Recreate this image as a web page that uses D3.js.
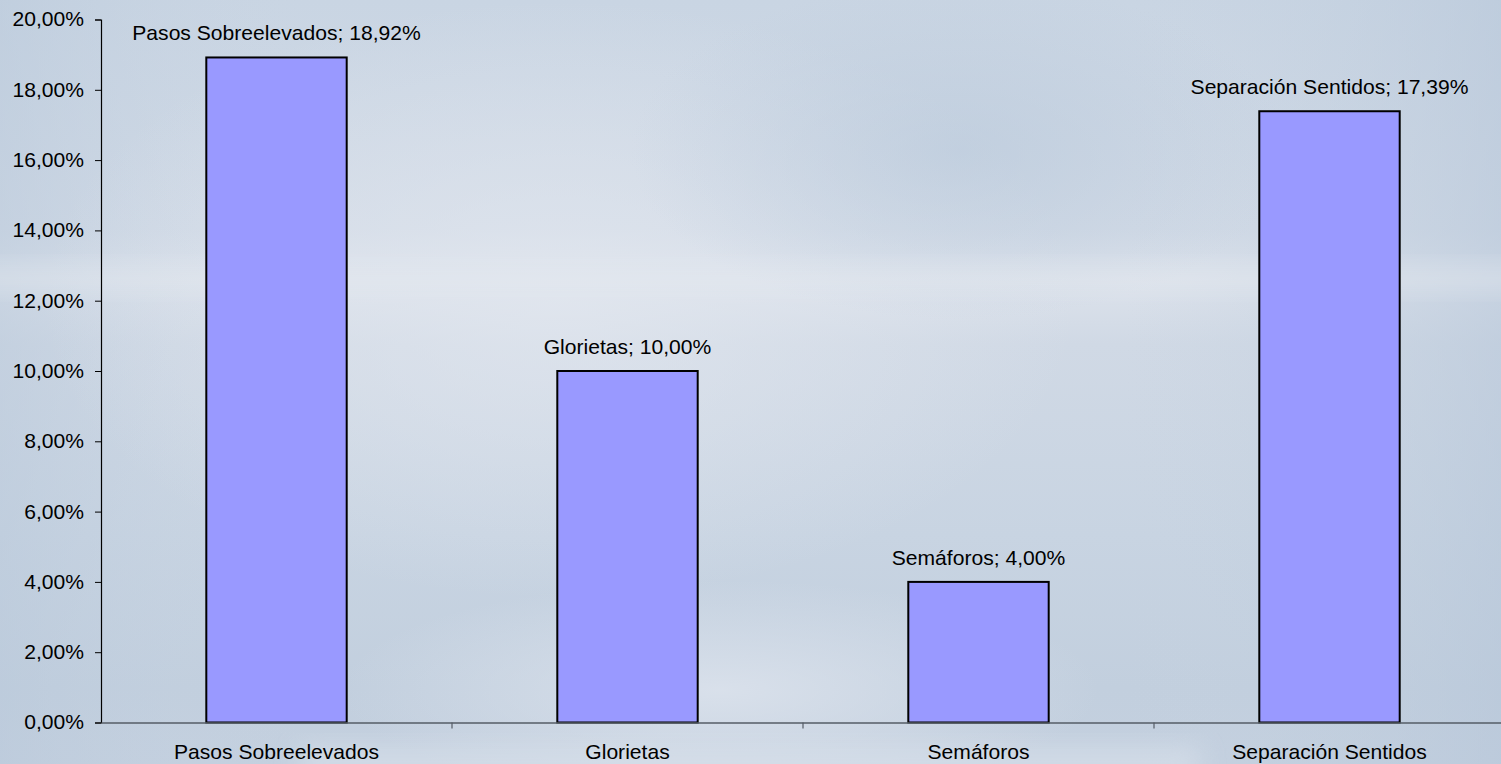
<!DOCTYPE html>
<html>
<head>
<meta charset="utf-8">
<script src="https://cdn.jsdelivr.net/npm/d3@7"></script>
<style>
  html, body { margin: 0; padding: 0; background: #c4d1e0; }
  svg { display: block; }
  text { font-family: "Liberation Sans", Arial, sans-serif; fill: #000; }
</style>
</head>
<body>
<svg id="chart" width="1501" height="764"></svg>
<script>
// Data
const categories = ["Pasos Sobreelevados", "Glorietas", "Semáforos", "Separación Sentidos"];
const values = [18.92, 10.00, 4.00, 17.39];
const yTicks = [0, 2, 4, 6, 8, 10, 12, 14, 16, 18, 20];

const W = 1501, H = 764;
const margin = { left: 101, right: -4, top: 19.5, bottom: 41.5 };
const fontSize = 20, stretch = 1.055;

const svg = d3.select("#chart");
const defs = svg.append("defs");

// Backdrop: soft blue-grey gradient with lighter hazy bands
const base = defs.append("linearGradient").attr("id", "bgBase").attr("x1", 0).attr("y1", 0).attr("x2", 0).attr("y2", 1);
[[0, "#c9d5e3"], [0.3, "#d1dae6"], [0.37, "#dce2eb"], [0.45, "#d0d9e5"], [0.7, "#c8d4e2"], [0.9, "#c2cfde"], [1, "#c4d0df"]]
  .forEach(([o, c]) => base.append("stop").attr("offset", o).attr("stop-color", c));

const side = defs.append("linearGradient").attr("id", "bgSide").attr("x1", 0).attr("y1", 0).attr("x2", 1).attr("y2", 0);
[[0, "#b8c8da", 0.5], [0.2, "#c8d4e2", 0], [0.75, "#c8d4e2", 0], [1, "#b6c6d9", 0.55]]
  .forEach(([o, c, a]) => side.append("stop").attr("offset", o).attr("stop-color", c).attr("stop-opacity", a));

const glow = defs.append("radialGradient").attr("id", "bgGlow").attr("cx", 0.5).attr("cy", 0.5).attr("r", 0.5);
[[0, "#e2e7ef", 0.75], [1, "#e2e7ef", 0]]
  .forEach(([o, c, a]) => glow.append("stop").attr("offset", o).attr("stop-color", c).attr("stop-opacity", a));

const glowLow = defs.append("radialGradient").attr("id", "bgGlowLow").attr("cx", 0.5).attr("cy", 0.5).attr("r", 0.5);
[[0, "#dbe2ec", 0.9], [1, "#dbe2ec", 0]]
  .forEach(([o, c, a]) => glowLow.append("stop").attr("offset", o).attr("stop-color", c).attr("stop-opacity", a));

const dark = defs.append("radialGradient").attr("id", "bgDark").attr("cx", 0.5).attr("cy", 0.5).attr("r", 0.5);
[[0, "#b9c9db", 0.6], [1, "#b9c9db", 0]]
  .forEach(([o, c, a]) => dark.append("stop").attr("offset", o).attr("stop-color", c).attr("stop-opacity", a));

const blur = defs.append("filter").attr("id", "haze").attr("x", -0.2).attr("y", -0.5).attr("width", 1.4).attr("height", 2);
blur.append("feGaussianBlur").attr("stdDeviation", 12);

const bg = svg.append("g");
bg.append("rect").attr("width", W).attr("height", H).attr("fill", "url(#bgBase)");
bg.append("rect").attr("width", W).attr("height", H).attr("fill", "url(#bgSide)");
bg.append("ellipse").attr("cx", 560).attr("cy", 300).attr("rx", 520).attr("ry", 300).attr("fill", "url(#bgGlow)");
bg.append("ellipse").attr("cx", 960).attr("cy", 150).attr("rx", 330).attr("ry", 170).attr("fill", "url(#bgDark)");
bg.append("ellipse").attr("cx", 720).attr("cy", 690).attr("rx", 380).attr("ry", 110).attr("fill", "url(#bgGlowLow)");
// light streak across the middle
bg.append("rect").attr("x", -50).attr("y", 266).attr("width", W + 100).attr("height", 24)
  .attr("fill", "#e3e8ef").attr("opacity", 0.5).attr("filter", "url(#haze)");
// pale strip along the bottom edge
bg.append("rect").attr("x", 300).attr("y", 748).attr("width", 900).attr("height", 30)
  .attr("fill", "#dce3ec").attr("opacity", 0.6).attr("filter", "url(#haze)");

// Scales
const x = d3.scaleBand().domain(categories).range([margin.left, W - margin.right]).paddingInner(0.6).paddingOuter(0.3);
const xOuter = d3.scaleBand().domain(categories).range([margin.left, W - margin.right]).padding(0);
const y = d3.scaleLinear().domain([0, 20]).range([H - margin.bottom, margin.top]);

const fmt = v => d3.format(".2f")(v).replace(".", ",") + "%";

// Bars
svg.append("g").selectAll("rect").data(values).join("rect")
  .attr("x", (d, i) => x(categories[i]))
  .attr("y", d => y(d))
  .attr("width", x.bandwidth())
  .attr("height", d => y(0) - y(d))
  .attr("fill", "#9999ff")
  .attr("stroke", "#000")
  .attr("stroke-width", 2);

// Value labels
svg.append("g").selectAll("text").data(values).join("text")
  .attr("transform", (d, i) => `translate(${x(categories[i]) + x.bandwidth() / 2},${y(d) - 17}) scale(${stretch},1)`)
  .attr("text-anchor", "middle")
  .attr("font-size", fontSize)
  .text((d, i) => `${categories[i]}; ${fmt(d)}`);

// Y axis
const yAxis = d3.axisLeft(y).tickValues(yTicks).tickSize(6).tickPadding(11).tickFormat(fmt);
const gy = svg.append("g").attr("transform", `translate(${margin.left},0)`).call(yAxis);
gy.select(".domain").attr("stroke", "#000").attr("stroke-width", 1.2);
gy.selectAll(".tick line").attr("stroke", "#000");
gy.selectAll(".tick text")
  .attr("font-size", fontSize).attr("font-family", "Liberation Sans, Arial, sans-serif").attr("fill", "#000")
  .attr("transform", function () { const tx = +d3.select(this).attr("x"); return `translate(${tx},0) scale(${stretch},1)`; })
  .attr("x", 0);

// X axis
const xAxis = d3.axisBottom(xOuter).tickSize(0).tickPadding(22).tickSizeOuter(0);
const gx = svg.append("g").attr("transform", `translate(0,${y(0)})`).call(xAxis);
gx.select(".domain").attr("stroke", "#555c66").attr("stroke-width", 1.5);
gx.selectAll(".tick text")
  .attr("font-size", fontSize).attr("font-family", "Liberation Sans, Arial, sans-serif").attr("fill", "#000")
  .attr("transform", function () { const ty = +d3.select(this).attr("y"); return `translate(0,${ty}) scale(${stretch},1)`; })
  .attr("y", 0);
// category boundary ticks
gx.append("g").selectAll("line").data(categories.slice(1)).join("line")
  .attr("x1", d => xOuter(d)).attr("x2", d => xOuter(d))
  .attr("y1", 0).attr("y2", 6)
  .attr("stroke", "#555c66").attr("stroke-width", 1.2);
</script>
</body>
</html>
